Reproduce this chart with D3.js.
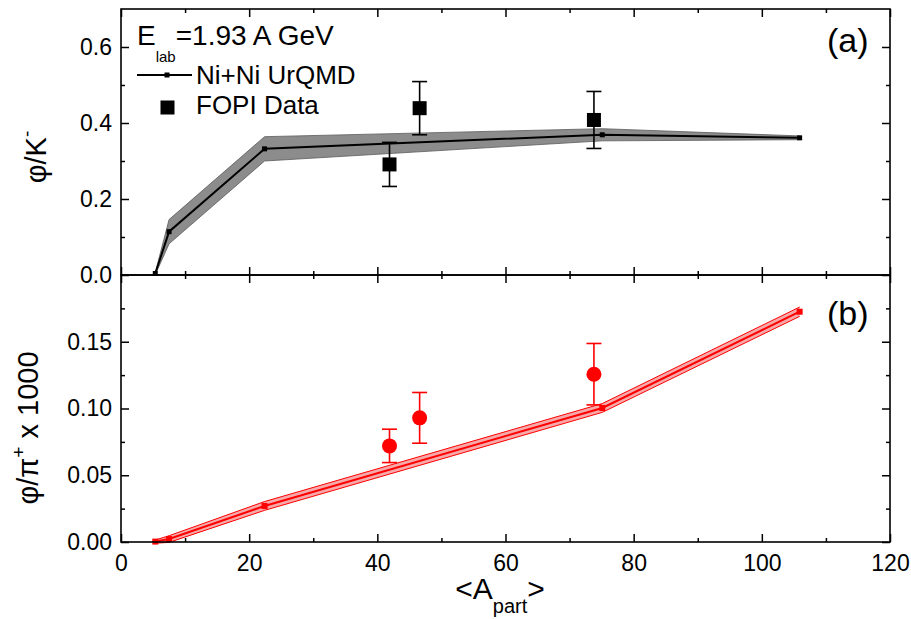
<!DOCTYPE html>
<html><head><meta charset="utf-8">
<script src="https://cdn.jsdelivr.net/npm/d3@7"></script>
<style>
body{margin:0;background:#fff}
text{font-family:"Liberation Sans",Arial,sans-serif;fill:#000}
</style>
</head><body>
<svg id="chart" width="911" height="619"></svg>
<script>
// UrQMD Ni+Ni centrality points (mean participants) and ratios with their uncertainty bands
const apart = [5.35, 7.5, 22.4, 75.1, 105.9];
const phiK = [0.004, 0.114, 0.332, 0.369, 0.361];
const phiKBand = [0.003, 0.032, 0.032, 0.016, 0.005];
const phiPi = [0.0003, 0.0022, 0.027, 0.1004, 0.1725];
const phiPiBand = [0.0012, 0.0025, 0.0033, 0.0033, 0.0035];

// FOPI measurements
const fopiApart = [41.9, 46.6, 73.8];
const fopiPhiK = [0.291, 0.439, 0.408];
const fopiPhiKErr = [0.058, 0.070, 0.075];
const fopiPhiPi = [0.072, 0.093, 0.1257];
const fopiPhiPiErr = [0.0125, 0.019, 0.023];

// tick values
const xTicks = [0, 20, 40, 60, 80, 100, 120];
const xMinor = [10, 30, 50, 70, 90, 110];
const kTicks = [0.0, 0.2, 0.4, 0.6];
const kMinor = [0.1, 0.3, 0.5];
const piTicks = [0.00, 0.05, 0.10, 0.15];
const piMinor = [0.025, 0.075, 0.125, 0.175];

const L = 121, R = 890, T = 9, M = 275, B = 542;
const svg = d3.select("#chart");

const x = d3.scaleLinear([0, 120], [L, R]);
const yA = d3.scaleLinear([0, 0.7], [M, T]);
const yB = d3.scaleLinear([0, 0.2], [B, M]);

function axes(y, top, bottom, major, minor, fmt, showX) {
  const g = svg.append("g");
  // left
  g.append("g").attr("transform", `translate(${L},0)`)
    .call(d3.axisLeft(y).tickValues(major).tickSizeInner(-8).tickSizeOuter(0).tickPadding(9).tickFormat(d3.format(fmt)));
  g.append("g").attr("transform", `translate(${L},0)`)
    .call(d3.axisLeft(y).tickValues(minor).tickSizeInner(-4).tickSizeOuter(0).tickFormat(""));
  // right
  g.append("g").attr("transform", `translate(${R},0)`)
    .call(d3.axisRight(y).tickValues(major).tickSizeInner(-8).tickSizeOuter(0).tickFormat(""));
  g.append("g").attr("transform", `translate(${R},0)`)
    .call(d3.axisRight(y).tickValues(minor).tickSizeInner(-4).tickSizeOuter(0).tickFormat(""));
  // bottom
  g.append("g").attr("transform", `translate(0,${bottom})`)
    .call(d3.axisBottom(x).tickValues(xTicks).tickSizeInner(-8).tickSizeOuter(0).tickPadding(13)
      .tickFormat(showX ? d3.format("d") : ""));
  g.append("g").attr("transform", `translate(0,${bottom})`)
    .call(d3.axisBottom(x).tickValues(xMinor).tickSizeInner(-4).tickSizeOuter(0).tickFormat(""));
  // top
  g.append("g").attr("transform", `translate(0,${top})`)
    .call(d3.axisTop(x).tickValues(xTicks).tickSizeInner(-8).tickSizeOuter(0).tickFormat(""));
  g.append("g").attr("transform", `translate(0,${top})`)
    .call(d3.axisTop(x).tickValues(xMinor).tickSizeInner(-4).tickSizeOuter(0).tickFormat(""));
  g.selectAll(".domain").remove();
  g.selectAll(".tick line").attr("stroke", "#000").attr("stroke-width", 1.5);
  g.selectAll(".tick text").attr("font-size", 23).attr("font-family", '"Liberation Sans",Arial,sans-serif').attr("fill", "#000");
  return g;
}

function band(y, vals, errs, fill, edge, edgeW, lineCol, lineW, markSize) {
  const g = svg.append("g");
  const idx = d3.range(apart.length);
  const area = d3.area().x(i => x(apart[i])).y0(i => y(vals[i] - errs[i])).y1(i => y(vals[i] + errs[i]));
  g.append("path").attr("d", area(idx)).attr("fill", fill);
  const lo = d3.line().x(i => x(apart[i])).y(i => y(vals[i] - errs[i]));
  const hi = d3.line().x(i => x(apart[i])).y(i => y(vals[i] + errs[i]));
  g.append("path").attr("d", lo(idx)).attr("fill", "none").attr("stroke", edge).attr("stroke-width", edgeW);
  g.append("path").attr("d", hi(idx)).attr("fill", "none").attr("stroke", edge).attr("stroke-width", edgeW);
  const mid = d3.line().x(i => x(apart[i])).y(i => y(vals[i]));
  g.append("path").attr("d", mid(idx)).attr("fill", "none").attr("stroke", lineCol).attr("stroke-width", lineW);
  g.selectAll("rect.m").data(idx).join("rect").attr("class", "m")
    .attr("x", i => x(apart[i]) - markSize / 2).attr("y", i => y(vals[i]) - markSize / 2)
    .attr("width", markSize).attr("height", markSize).attr("fill", lineCol);
}

function errorBars(y, vals, errs, col) {
  const g = svg.append("g").attr("stroke", col).attr("stroke-width", 1.6);
  fopiApart.forEach((a, i) => {
    const cx = x(a), y1 = y(vals[i] + errs[i]), y0 = y(vals[i] - errs[i]);
    g.append("line").attr("x1", cx).attr("x2", cx).attr("y1", y1).attr("y2", y0);
    g.append("line").attr("x1", cx - 7.5).attr("x2", cx + 7.5).attr("y1", y1).attr("y2", y1);
    g.append("line").attr("x1", cx - 7.5).attr("x2", cx + 7.5).attr("y1", y0).attr("y2", y0);
  });
}

// panel (a): phi/K-
band(yA, phiK, phiKBand, "#8c8c8c", "#5a5a5a", 0.8, "#000", 2, 5);
errorBars(yA, fopiPhiK, fopiPhiKErr, "#000");
svg.append("g").selectAll("rect").data(fopiApart).join("rect")
  .attr("x", (a) => x(a) - 7).attr("y", (a, i) => yA(fopiPhiK[i]) - 7)
  .attr("width", 14).attr("height", 14).attr("fill", "#000");

// panel (b): phi/pi+ x 1000
band(yB, phiPi, phiPiBand, "#f7a8a8", "#ff0000", 1, "#ff0000", 2, 6);
errorBars(yB, fopiPhiPi, fopiPhiPiErr, "#ff0000");
svg.append("g").selectAll("circle").data(fopiApart).join("circle")
  .attr("cx", a => x(a)).attr("cy", (a, i) => yB(fopiPhiPi[i]))
  .attr("r", 7.5).attr("fill", "#ff0000");

axes(yA, T, M, kTicks, kMinor, ".1f", false);
axes(yB, M, B, piTicks, piMinor, ".2f", true);

// frames
[[T, M], [M, B]].forEach(([t, b]) => {
  svg.append("rect").attr("x", L).attr("y", t).attr("width", R - L).attr("height", b - t)
    .attr("fill", "none").attr("stroke", "#000").attr("stroke-width", 1.6);
});

// axis titles
const yt1 = svg.append("text").attr("transform", "translate(46,157) rotate(-90)")
  .attr("text-anchor", "middle").attr("font-size", 29);
yt1.append("tspan").text("φ/K");
yt1.append("tspan").attr("font-size", 19).attr("dy", -13).text("-");

const yt2 = svg.append("text").attr("transform", "translate(38,428) rotate(-90)")
  .attr("text-anchor", "middle").attr("font-size", 29);
yt2.append("tspan").text("φ/π");
yt2.append("tspan").attr("font-size", 19).attr("dy", -13).text("+");
yt2.append("tspan").attr("dy", 13).text(" x 1000");

const xt = svg.append("text").attr("x", 500).attr("y", 599).attr("text-anchor", "middle").attr("font-size", 30);
xt.append("tspan").text("<A");
xt.append("tspan").attr("font-size", 20).attr("dy", 14).text("part");
xt.append("tspan").attr("dy", -14).text(">");

// panel labels
svg.append("text").attr("x", 827).attr("y", 52).attr("font-size", 34).text("(a)");
svg.append("text").attr("x", 827).attr("y", 325).attr("font-size", 34).text("(b)");

// legend
const e = svg.append("text").attr("x", 137).attr("y", 45).attr("font-size", 28);
e.append("tspan").text("E");
e.append("tspan").attr("font-size", 15).attr("dy", 17).text("lab");
e.append("tspan").attr("dy", -17).text("=1.93 A GeV");

svg.append("line").attr("x1", 137).attr("x2", 192).attr("y1", 75).attr("y2", 75)
  .attr("stroke", "#000").attr("stroke-width", 2);
svg.append("rect").attr("x", 164.5).attr("y", 72.5).attr("width", 5).attr("height", 5).attr("fill", "#000");
svg.append("text").attr("x", 196).attr("y", 84).attr("font-size", 26).text("Ni+Ni UrQMD");

svg.append("rect").attr("x", 160.5).attr("y", 100.5).attr("width", 14).attr("height", 14).attr("fill", "#000");
svg.append("text").attr("x", 196).attr("y", 114).attr("font-size", 26).text("FOPI Data");
</script>
</body></html>
